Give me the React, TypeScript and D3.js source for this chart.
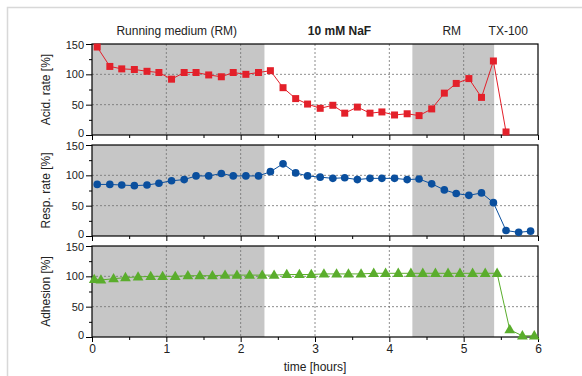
import React, { useEffect, useRef } from 'react';
import * as d3 from 'd3';

// time points [hours]
const timeAcid = [0.07, 0.24, 0.4, 0.57, 0.74, 0.9, 1.07, 1.24, 1.4, 1.57, 1.74, 1.9, 2.07, 2.24, 2.4, 2.57, 2.74, 2.9, 3.07, 3.24, 3.4, 3.57, 3.74, 3.9, 4.07, 4.24, 4.4, 4.57, 4.74, 4.9, 5.07, 5.24, 5.4, 5.57];
const acidRate = [145, 113, 109, 108, 105, 103, 92, 103, 103, 99, 96, 103, 100, 103, 106, 78, 60, 51, 44, 49, 36, 46, 36, 38, 33, 35, 32, 43, 69, 85, 93, 62, 122, 5];

const timeResp = [0.07, 0.24, 0.4, 0.57, 0.74, 0.9, 1.07, 1.24, 1.4, 1.57, 1.74, 1.9, 2.07, 2.24, 2.4, 2.57, 2.74, 2.9, 3.07, 3.24, 3.4, 3.57, 3.74, 3.9, 4.07, 4.24, 4.4, 4.57, 4.74, 4.9, 5.07, 5.24, 5.4, 5.57, 5.74, 5.9];
const respRate = [85, 85, 84, 83, 84, 87, 91, 93, 99, 99, 103, 99, 99, 99, 106, 119, 104, 99, 97, 95, 96, 93, 95, 95, 95, 93, 94, 86, 76, 70, 67, 71, 55, 9, 6, 8];

const timeAdh = [0.03, 0.12, 0.29, 0.45, 0.62, 0.79, 0.95, 1.12, 1.29, 1.45, 1.62, 1.79, 1.95, 2.12, 2.29, 2.45, 2.62, 2.79, 2.95, 3.12, 3.29, 3.45, 3.62, 3.79, 3.95, 4.12, 4.29, 4.45, 4.62, 4.79, 4.95, 5.12, 5.29, 5.45, 5.62, 5.79, 5.95];
const adhesion = [95, 94, 96, 98, 99, 100, 100, 100, 101, 101, 101, 102, 102, 102, 102, 102, 103, 103, 103, 104, 104, 104, 104, 105, 105, 105, 105, 105, 105, 105, 105, 105, 105, 105, 12, 2, 2];

// phases with running medium (shaded)
const shadedStart = [0, 4.31];
const shadedEnd = [2.32, 5.41];

const phaseLabels = ['Running medium (RM)', '10 mM NaF', 'RM', 'TX-100'];
const phaseLabelX = [1.14, 3.33, 4.84, 5.6];

const yTicks = [0, 50, 100, 150];

const W = 582;
const H = 376;
const left = 92;
const right = 538;
const panelTop = 44;
const panelH = 91;
const panelStep = 101;

const App: React.FC = () => {
  const svgRef = useRef<SVGSVGElement>(null);

  useEffect(() => {
    if (!svgRef.current) return;
    const svg = d3.select(svgRef.current);
    svg.selectAll('*').remove();

    const font = 'Arial, "Liberation Sans", sans-serif';

    // outer frame
    svg.append('path')
      .attr('d', `M7.5,${H} V7.5 H${W}`)
      .attr('fill', 'none')
      .attr('stroke', '#d8d8d8')
      .attr('stroke-width', 1.5);

    const x = d3.scaleLinear().domain([0, 6]).range([left, right]);

    const panels = [
      { t: timeAcid, v: acidRate, label: 'Acid. rate [%]', color: '#e3202a', shape: 'square' },
      { t: timeResp, v: respRate, label: 'Resp. rate [%]', color: '#0a4f9e', shape: 'circle' },
      { t: timeAdh, v: adhesion, label: 'Adhesion [%]', color: '#5aad2c', shape: 'triangle' },
    ];

    panels.forEach((p, pi) => {
      const top = panelTop + pi * panelStep;
      const bottom = top + panelH;
      const y = d3.scaleLinear().domain([0, 150]).range([bottom, top]);
      const g = svg.append('g');

      // shaded regions
      shadedStart.forEach((s, i) => {
        g.append('rect')
          .attr('x', x(s))
          .attr('y', top)
          .attr('width', x(shadedEnd[i]) - x(s))
          .attr('height', panelH)
          .attr('fill', '#c6c6c6');
      });

      // grid
      [1, 2, 3, 4, 5].forEach(h => {
        g.append('line')
          .attr('x1', x(h)).attr('x2', x(h))
          .attr('y1', top).attr('y2', bottom)
          .attr('stroke', '#707070')
          .attr('stroke-width', 0.8)
          .attr('stroke-dasharray', '2,2');
      });
      [50, 100].forEach(v => {
        g.append('line')
          .attr('x1', left).attr('x2', right)
          .attr('y1', y(v)).attr('y2', y(v))
          .attr('stroke', '#707070')
          .attr('stroke-width', 0.8)
          .attr('stroke-dasharray', '2,2');
      });

      // x axis ticks
      const xAxis = d3.axisBottom(x)
        .tickValues(d3.range(0, 6.01, 0.5))
        .tickSize(4)
        .tickFormat((d) => (pi === 2 && Number(d) % 1 === 0 ? String(d) : ''));
      const xg = g.append('g')
        .attr('transform', `translate(0,${bottom})`)
        .call(xAxis);
      xg.select('.domain').remove();
      xg.selectAll('.tick line')
        .attr('stroke', '#000')
        .attr('y2', (d: any) => (d % 1 === 0 ? 5 : 3));
      xg.selectAll('.tick text')
        .attr('font-family', font)
        .attr('font-size', 12)
        .attr('fill', '#222')
        .attr('dy', '0.95em')
        .attr('y', 5);

      // y axis ticks
      const yAxis = d3.axisLeft(y)
        .tickValues(d3.range(0, 151, 25))
        .tickSize(6)
        .tickFormat((d) => (yTicks.includes(Number(d)) ? String(d) : ''));
      const yg = g.append('g')
        .attr('transform', `translate(${left},0)`)
        .call(yAxis);
      yg.select('.domain').remove();
      yg.selectAll('.tick line')
        .attr('stroke', '#000')
        .attr('x2', (d: any) => (d % 50 === 0 ? -6 : -3));
      yg.selectAll('.tick text')
        .attr('font-family', font)
        .attr('font-size', 11)
        .attr('fill', '#222')
        .attr('x', -8)
        .attr('dy', (d: any) => (d === 0 ? '0.1em' : d === 150 ? '0.42em' : '0.32em'));

      // frame
      g.append('rect')
        .attr('x', left)
        .attr('y', top)
        .attr('width', right - left)
        .attr('height', panelH)
        .attr('fill', 'none')
        .attr('stroke', '#000')
        .attr('stroke-width', 1.2);

      // y label
      g.append('text')
        .attr('transform', `translate(50,${(top + bottom) / 2}) rotate(-90)`)
        .attr('text-anchor', 'middle')
        .attr('font-family', font)
        .attr('font-size', 12)
        .attr('fill', '#222')
        .text(p.label);

      // data line
      const pts = p.t.map((t, i) => [x(t), y(p.v[i])] as [number, number]);
      g.append('path')
        .attr('d', d3.line()(pts) as string)
        .attr('fill', 'none')
        .attr('stroke', p.color)
        .attr('stroke-width', 1);

      // markers
      const symType = p.shape === 'square' ? d3.symbolSquare : p.shape === 'circle' ? d3.symbolCircle : d3.symbolTriangle;
      const symSize = p.shape === 'square' ? 49 : p.shape === 'circle' ? 46 : 50;
      g.selectAll('.m')
        .data(pts)
        .enter()
        .append('path')
        .attr('transform', d => `translate(${d[0]},${d[1] + (p.shape === 'triangle' ? 0.5 : 0)})`)
        .attr('d', d3.symbol().type(symType).size(symSize) as any)
        .attr('fill', p.color);
    });

    // phase labels
    phaseLabels.forEach((l, i) => {
      svg.append('text')
        .attr('x', x(phaseLabelX[i]))
        .attr('y', 35)
        .attr('text-anchor', 'middle')
        .attr('font-family', font)
        .attr('font-size', 12)
        .attr('font-weight', i === 1 ? 'bold' : 'normal')
        .attr('fill', '#222')
        .text(l);
    });

    // x label
    svg.append('text')
      .attr('x', 315)
      .attr('y', 371)
      .attr('text-anchor', 'middle')
      .attr('font-family', font)
      .attr('font-size', 12)
      .attr('fill', '#222')
      .text('time [hours]');
  }, []);

  return (
    <svg
      ref={svgRef}
      width={W}
      height={H}
      style={{ position: 'absolute', left: 0, top: 0, background: '#fff' }}
    />
  );
};

export default App;
